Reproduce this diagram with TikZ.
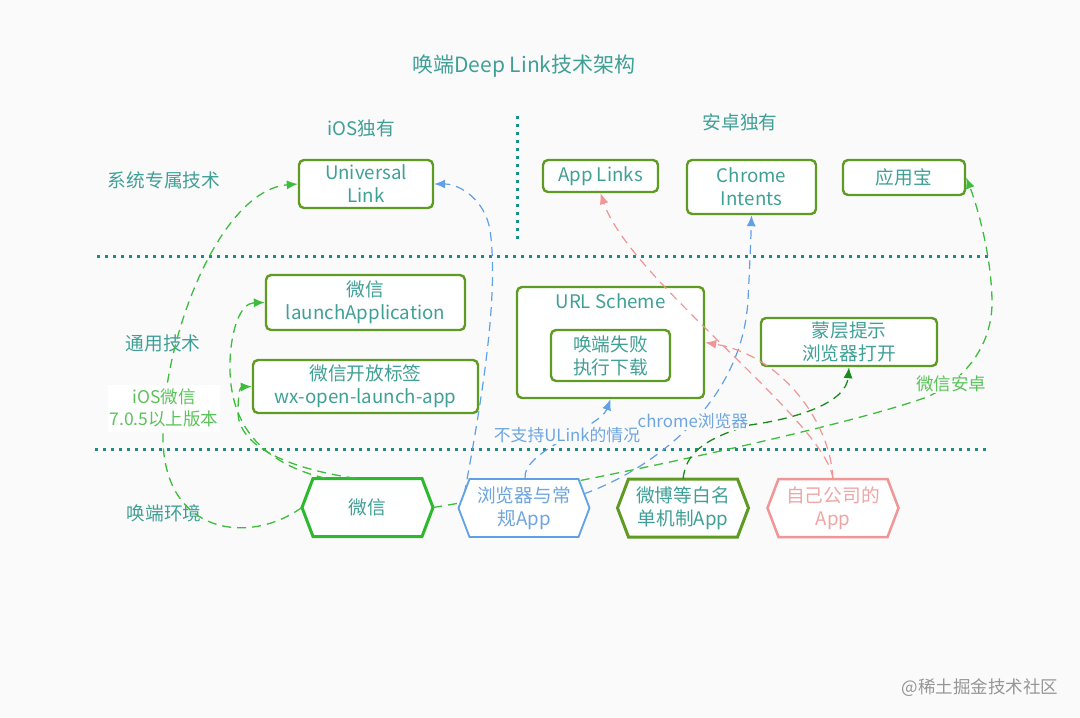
\documentclass[tikz,border=0pt]{standalone}
\usepackage{fontspec}
\setmainfont{Noto Sans CJK SC}
\usetikzlibrary{arrows.meta,calc}
\definecolor{bgc}{RGB}{250,250,251}
\definecolor{txtteal}{RGB}{64,160,150}
\definecolor{boxgrn}{RGB}{95,155,35}
\definecolor{brgrn}{RGB}{45,185,45}
\definecolor{lgrn}{RGB}{60,190,60}
\definecolor{lbltgrn}{RGB}{90,195,90}
\definecolor{dkgrn}{RGB}{25,140,25}
\definecolor{lblue}{RGB}{95,160,230}
\definecolor{lbltxt}{RGB}{110,165,225}
\definecolor{lpink}{RGB}{240,150,150}
\definecolor{pinktxt}{RGB}{240,165,165}
\definecolor{dotc}{RGB}{25,140,140}
\definecolor{wmgray}{RGB}{150,150,150}
\newcommand\nfont{\fontsize{18.7}{23}\selectfont}
\newcommand\sfont{\fontsize{16.8}{20}\selectfont}
\newcommand\hexshape[4]{%
  \draw[#3,line width=#4,fill=white,line join=miter] ({#1-65.5},#2) -- ({#1-54.5},{#2-29}) -- ({#1+54.5},{#2-29}) -- ({#1+65.5},#2) -- ({#1+54.5},{#2+29}) -- ({#1-54.5},{#2+29}) -- cycle;}
\begin{document}
\begin{tikzpicture}[x=1pt,y=-1pt,
  box/.style={draw=boxgrn,line width=2.4pt,rounded corners=5pt,fill=white,text=txtteal,align=center,font=\nfont,inner sep=0pt},
  hexlbl/.style={align=center,font=\nfont,inner sep=0pt,minimum width=131,minimum height=58},
  lbl/.style={text=txtteal,font=\nfont,inner sep=1pt},
  sep/.style={dotc,line width=3pt,dash pattern=on 3pt off 5pt},
  gl/.style={lgrn,line width=1.3pt,dash pattern=on 9pt off 6pt},
  bl/.style={lblue,line width=1.2pt,dash pattern=on 9pt off 6pt},
  pl/.style={lpink,line width=1.2pt,dash pattern=on 9pt off 6pt},
  tip/.style={-{Latex[length=11pt,width=9pt]}},
]
\fill[bgc] (0,0) rectangle (1080,718);
\useasboundingbox (0,0) rectangle (1080,718);

% separators
\draw[sep] (97,256) -- (988,256);
\draw[sep] (95,449) -- (990,449);
\draw[sep] (517,116) -- (517,240);

% title and labels
\node[lbl,font=\fontsize{21}{25}\selectfont] (title) at (524,66) {唤端Deep Link技术架构};
\node[lbl] (t1) at (361,128) {iOS独有};
\node[lbl] (t2) at (740,122) {安卓独有};
\node[lbl] (t3) at (164,180) {系统专属技术};
\node[lbl] (t4) at (163,343) {通用技术};
\node[lbl] (t5) at (164,513) {唤端环境};

% boxes
\node[box,minimum width=134,minimum height=48] (UL) at (366,184) {Universal\\Link};
\node[box,minimum width=115,minimum height=32] (AL) at (600.5,176) {App Links};
\node[box,minimum width=129,minimum height=54] (CI) at (751.5,187) {Chrome\\Intents};
\node[box,minimum width=122,minimum height=35] (YYB) at (904,177.5) {应用宝};
\node[box,minimum width=199,minimum height=55] (LA) at (365.5,302.5) {微信\\launchApplication};
\node[box,minimum width=225,minimum height=53] (WX) at (365.5,386.5) {微信开放标签\\wx-open-launch-app};
\node[box,minimum width=187,minimum height=111] (URL) at (610.5,342.5) {};
\node[lbl] (urlt) at (610.5,301) {URL Scheme};
\node[box,minimum width=119,minimum height=51] (FAIL) at (610.5,355.5) {唤端失败\\执行下载};
\node[box,minimum width=176,minimum height=48] (MC) at (849,342) {蒙层提示\\浏览器打开};

% WeChat hexagon first, then the green line that runs behind the browser hexagon
\hexshape{367.5}{507.5}{brgrn}{3pt}
\node[hexlbl,text=txtteal] (H1) at (367.5,507.5) {微信};
\draw[gl,tip] (H1.east) .. controls (600,480) and (850,425) .. (927,397) .. controls (965,380) and (993,345) .. (992,300) .. controls (991,250) and (975,200) .. (YYB.east);

% other hexagons
\hexshape{524}{508}{lblue}{1.8pt}
\node[hexlbl,text=lbltxt] (H2) at (524,508) {浏览器与常\\规App};
\hexshape{683}{508}{boxgrn}{3pt}
\node[hexlbl,text=txtteal] (H3) at (683,508) {微博等白名\\单机制App};
\hexshape{833}{508}{lpink}{2.5pt}
\node[hexlbl,text=pinktxt] (H4) at (833,508) {自己公司的\\App};

% green connectors from WeChat
\draw[gl,tip] (H1.west) .. controls (250,545) and (165,535) .. (163,440) .. controls (161,340) and (220,190) .. (UL.west);
\draw[gl,tip] ($(H1.north)+(-42,0)$) .. controls (270,465) and (228,432) .. (230,362) .. controls (231,330) and (240,303) .. (LA.west);
\draw[gl,tip] ($(H1.north)+(-12,0)$) .. controls (285,468) and (238,445) .. (238,412) .. controls (238,395) and (240,387) .. (WX.west);

% blue connectors from browser
\draw[bl,tip] ($(H2.west)+(6,-14)$) .. controls (478,420) and (500,300) .. (490,230) .. controls (485,200) and (460,184) .. (UL.east);
\draw[bl,tip] ($(H2.north)+(1,0)$) .. controls (522,450) and (600,428) .. (URL.south);
\draw[bl,tip] ($(H2.east)+(-6,-14)$) .. controls (650,470) and (742,405) .. (748,300) .. controls (750,260) and (751,235) .. (CI.south);

% dark green from weibo
\draw[gl,dkgrn,tip] (H3.north) .. controls (686,455) and (700,440) .. (750,425) .. controls (800,418) and (846,402) .. (MC.south);

% pink from own app
\draw[pl,tip] (H4.north) .. controls (825,420) and (630,280) .. (AL.south);
\draw[pl,tip] (H4.north) .. controls (830,420) and (780,355) .. (URL.east);

% labels with background
\node[fill=white,text=lbltgrn,align=center,font=\fontsize{17.5}{22}\selectfont,minimum width=112,minimum height=47,inner sep=0pt] (t6) at (164,408) {iOS微信\\7.0.5以上版本};
\node[fill=bgc,text=lbltxt,font=\sfont,inner sep=1pt] (t7) at (567,435) {不支持ULink的情况};
\node[fill=bgc,text=lbltxt,font=\sfont,inner sep=1pt] (t8) at (693,421) {chrome浏览器};
\node[fill=bgc,text=lbltgrn,font=\fontsize{17.5}{20}\selectfont,inner sep=1pt] (t9) at (951,384) {微信安卓};

\node[text=wmgray,font=\fontsize{17.5}{20}\selectfont] (wm) at (980,688) {@稀土掘金技术社区};
\end{tikzpicture}
\end{document}
